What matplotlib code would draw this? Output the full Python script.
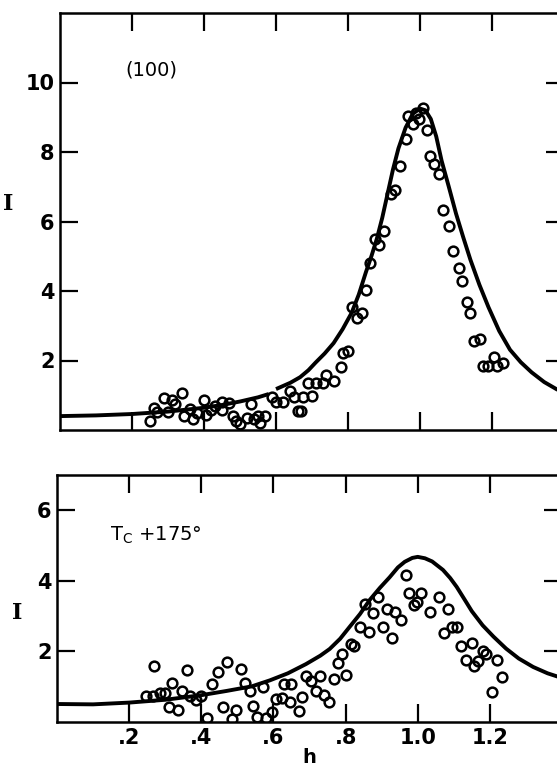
import numpy as np
import matplotlib
matplotlib.use('Agg')
import matplotlib.pyplot as plt

# ---- (100) panel : measured points
h_top = [0.25, 0.26, 0.27, 0.29, 0.30, 0.31, 0.32, 0.34, 0.345, 0.36, 0.37, 0.38,
         0.40, 0.405, 0.42, 0.43, 0.45, 0.45, 0.47, 0.48, 0.49, 0.50, 0.52, 0.53,
         0.54, 0.55, 0.555, 0.57, 0.59, 0.60, 0.62, 0.64, 0.65, 0.66, 0.675, 0.67,
         0.69, 0.70, 0.71, 0.73, 0.74, 0.76, 0.78, 0.785, 0.80, 0.81, 0.825, 0.84,
         0.85, 0.86, 0.875, 0.886, 0.90, 0.92, 0.93, 0.945, 0.96, 0.967, 0.98, 0.99,
         0.997, 1.008, 1.02, 1.028, 1.04, 1.053, 1.065, 1.08, 1.093, 1.107, 1.116,
         1.13, 1.14, 1.15, 1.167, 1.175, 1.19, 1.206, 1.214, 1.23]
I_top = [0.26, 0.63, 0.51, 0.91, 0.51, 0.86, 0.74, 1.06, 0.40, 0.60, 0.31, 0.49,
         0.86, 0.43, 0.57, 0.69, 0.80, 0.57, 0.77, 0.40, 0.26, 0.17, 0.34, 0.74,
         0.31, 0.40, 0.20, 0.40, 0.94, 0.80, 0.80, 1.11, 0.94, 0.54, 0.94, 0.54,
         1.34, 0.97, 1.34, 1.34, 1.57, 1.40, 1.80, 2.23, 2.26, 3.54, 3.23, 3.37,
         4.03, 4.80, 5.51, 5.31, 5.74, 6.80, 6.91, 7.60, 8.37, 9.03, 8.80, 9.11,
         8.94, 9.26, 8.63, 7.89, 7.66, 7.37, 6.34, 5.86, 5.14, 4.66, 4.29,
         3.69, 3.37, 2.57, 2.63, 1.83, 1.83, 2.11, 1.83, 1.94]

# fitted curve (gap in the drawn line near h=0.59)
hc_top = [0.0, 0.1, 0.2, 0.3, 0.4, 0.45, 0.5, 0.55, 0.575, np.nan, 0.605, 0.64,
          0.667, 0.69, 0.71, 0.735, 0.76, 0.785, 0.81, 0.83, 0.85, 0.865, 0.88,
          0.895, 0.91, 0.925, 0.94, 0.96, 0.98, 1.0, 1.015, 1.03, 1.045, 1.06,
          1.08, 1.10, 1.12, 1.14, 1.165, 1.19, 1.22, 1.25, 1.28, 1.31, 1.345,
          1.38, 1.42]
Ic_top = [0.40, 0.42, 0.46, 0.53, 0.64, 0.72, 0.82, 0.94, 1.02, np.nan, 1.20, 1.36,
          1.52, 1.72, 1.94, 2.20, 2.50, 2.90, 3.37, 3.90, 4.55, 5.00, 5.50,
          6.10, 6.80, 7.50, 8.10, 8.70, 9.10, 9.25, 9.20, 8.95, 8.45, 7.75,
          7.00, 6.23, 5.55, 4.90, 4.18, 3.54, 2.85, 2.31, 1.95, 1.66, 1.38,
          1.17, 1.00]

# ---- Tc +175 panel
h_bot = [0.247, 0.266, 0.27, 0.285, 0.30, 0.31, 0.32, 0.335, 0.346, 0.36, 0.37,
         0.385, 0.40, 0.415, 0.43, 0.445, 0.46, 0.47, 0.485, 0.495, 0.51, 0.52,
         0.535, 0.543, 0.554, 0.57, 0.58, 0.595, 0.607, 0.623, 0.63, 0.65, 0.645,
         0.67, 0.68, 0.69, 0.705, 0.717, 0.73, 0.74, 0.754, 0.767, 0.778, 0.79,
         0.80, 0.815, 0.823, 0.84, 0.853, 0.864, 0.876, 0.89, 0.903, 0.914,
         0.928, 0.936, 0.953, 0.967, 0.975, 0.99, 0.997, 1.01, 1.033, 1.06,
         1.083, 1.072, 1.094, 1.11, 1.12, 1.15, 1.133, 1.155, 1.166, 1.18, 1.19,
         1.22, 1.233, 1.207]
I_bot = [0.73, 0.73, 1.60, 0.82, 0.82, 0.42, 1.10, 0.34, 0.87, 1.46, 0.73,
         0.62, 0.73, 0.11, 1.07, 1.41, 0.42, 1.69, 0.08, 0.34, 1.49, 1.10,
         0.87, 0.45, 0.14, 0.99, 0.11, 0.28, 0.65, 0.68, 1.07, 1.07, 0.56,
         0.31, 0.70, 1.30, 1.15, 0.87, 1.30, 0.76, 0.56, 1.21, 1.66, 1.94,
         1.32, 2.20, 2.14, 2.70, 3.35, 2.56, 3.10, 3.55, 2.68, 3.21,
         2.39, 3.13, 2.90, 4.17, 3.66, 3.32, 3.40, 3.66, 3.13, 3.55,
         3.21, 2.51, 2.68, 2.68, 2.14, 2.25, 1.77, 1.58, 1.72, 2.00, 1.94,
         1.75, 1.27, 0.85]

hc_bot = [0.0, 0.1, 0.2, 0.3, 0.4, 0.47, 0.54, 0.59, 0.64, 0.69, 0.73, 0.756,
          0.785, 0.81, 0.84, 0.867, 0.895, 0.922, 0.945, 0.964, 0.985, 1.0,
          1.02, 1.04, 1.07, 1.09, 1.108, 1.13, 1.15, 1.18, 1.21, 1.245, 1.28,
          1.32, 1.36, 1.42]
Ic_bot = [0.51, 0.50, 0.55, 0.63, 0.76, 0.88, 1.01, 1.18, 1.38, 1.64, 1.88, 2.07,
          2.36, 2.68, 3.06, 3.46, 3.80, 4.10, 4.38, 4.54, 4.65, 4.68,
          4.64, 4.55, 4.31, 4.08, 3.83, 3.47, 3.14, 2.74, 2.42, 2.08, 1.80,
          1.56, 1.38, 1.18]

xticks = [0.2, 0.4, 0.6, 0.8, 1.0, 1.2]
xlabels = ['.2', '.4', '.6', '.8', '1.0', '1.2']

plt.rcParams['font.family'] = ['DejaVu Sans']
fig = plt.figure(figsize=(5.57, 7.70), dpi=100)

ax1 = fig.add_axes([60/557, 1-430/770, 504/557, 417/770])
ax2 = fig.add_axes([57/557, 1-722/770, 505/557, 247/770])


def style(ax, ymax, yt):
    ax.set_xlim(0, 1.4)
    ax.set_ylim(0, ymax)
    ax.set_xticks(xticks)
    ax.set_yticks(yt)
    ax.tick_params(direction='in', length=13, width=1.6, top=True, right=True,
                   labelsize=15, pad=4)
    for s in ax.spines.values():
        s.set_linewidth(1.8)


ax1.plot(hc_top, Ic_top, color='black', lw=2.8, solid_joinstyle='round')
ax1.plot(h_top, I_top, 'o', ms=7, mew=1.8, mfc='none', mec='black')
style(ax1, 12, [2, 4, 6, 8, 10])
ax1.set_xticklabels([])
ax1.set_yticklabels(['2', '4', '6', '8', '10'], fontweight='bold')
ax1.text(0.253, 10.37, '(100)', fontsize=14, ha='center', va='center')
ax1.text(-0.145, 6.5, 'I', fontsize=16, family='DejaVu Serif', fontweight='bold',
         ha='center', va='center')

ax2.plot(hc_bot, Ic_bot, color='black', lw=2.8, solid_joinstyle='round')
ax2.plot(h_bot, I_bot, 'o', ms=7, mew=1.8, mfc='none', mec='black')
style(ax2, 7, [2, 4, 6])
ax2.set_yticklabels(['2', '4', '6'], fontweight='bold')
ax2.set_xticklabels(xlabels, fontweight='bold')
ax2.text(0.147, 5.15, r'T$_\mathregular{C}$ +175°', fontsize=14, ha='left', va='baseline')
ax2.text(-0.11, 3.1, 'I', fontsize=16, family='DejaVu Serif', fontweight='bold',
         ha='center', va='center')
ax2.set_xlabel('h', fontsize=14, fontweight='bold', labelpad=0)

fig.savefig('out.png', dpi=100)
